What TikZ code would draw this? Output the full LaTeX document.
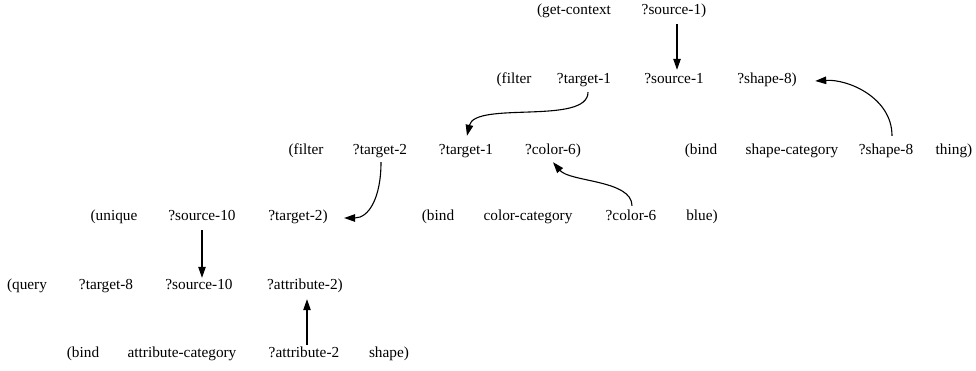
\documentclass[tikz,border=0pt]{standalone}
\usepackage{fontspec}
\setmainfont{Liberation Serif}
\usetikzlibrary{arrows.meta}
\begin{document}
\begin{tikzpicture}[x=1pt,y=-1pt,
  word/.style={inner sep=0pt,outer sep=1.5pt,font=\fontsize{15.3}{18}\selectfont,
    text height=0.72em,text depth=0.22em,anchor=center},
  link/.style={line width=1.1pt,-{Triangle[length=11pt,width=7.5pt]}}]
\useasboundingbox (0,0) rectangle (976,371);

% (get-context ?source-1)
\node[word] (gc0) at (574,12) {(get-context};
\node[word] (gc1) at (674,12) {?source-1)};

% (filter ?target-1 ?source-1 ?shape-8)
\node[word] (fa0) at (514,81) {(filter};
\node[word] (fa1) at (584,81) {?target-1};
\node[word] (fa2) at (674,81) {?source-1};
\node[word] (fa3) at (767,81) {?shape-8)};

% (filter ?target-2 ?target-1 ?color-6)
\node[word] (fb0) at (306,152) {(filter};
\node[word] (fb1) at (380,152) {?target-2};
\node[word] (fb2) at (466,152) {?target-1};
\node[word] (fb3) at (553,152) {?color-6)};

% (bind shape-category ?shape-8 thing)
\node[word] (bs0) at (701,152) {(bind};
\node[word] (bs1) at (792,152) {shape-category};
\node[word] (bs2) at (886,152) {?shape-8};
\node[word] (bs3) at (954,152) {thing)};

% (unique ?source-10 ?target-2)
\node[word] (un0) at (114,218) {(unique};
\node[word] (un1) at (202,218) {?source-10};
\node[word] (un2) at (298,218) {?target-2)};

% (bind color-category ?color-6 blue)
\node[word] (bc0) at (438,218) {(bind};
\node[word] (bc1) at (528,218) {color-category};
\node[word] (bc2) at (631,218) {?color-6};
\node[word] (bc3) at (702,218) {blue)};

% (query ?target-8 ?source-10 ?attribute-2)
\node[word] (qu0) at (27,287) {(query};
\node[word] (qu1) at (106,287) {?target-8};
\node[word] (qu2) at (199,287) {?source-10};
\node[word] (qu3) at (305,287) {?attribute-2)};

% (bind attribute-category ?attribute-2 shape)
\node[word] (ba0) at (83,355) {(bind};
\node[word] (ba1) at (182,355) {attribute-category};
\node[word] (ba2) at (304,355) {?attribute-2};
\node[word] (ba3) at (389,355) {shape)};

% variable bindings (shifts are in picture units, y pointing down)
\draw[link] ([shift={(3,6)}]gc1.south) -- ([shift={(3,-5)}]fa2.north);
\draw[link] ([shift={(4,5)}]fa1.south)
  .. controls ++(0,33) and ++(8,-35) .. ([shift={(1,-10)}]fb2.north);
\draw[link] ([shift={(6,-10)}]bs2.north)
  .. controls ++(0,-38) and ++(33,-2) .. ([shift={(17,0)}]fa3.east);
\draw[link] ([shift={(1,-6)}]bc2.north)
  .. controls ++(0,-26) and ++(17,20) .. ([shift={(0,4)}]fb3.south);
\draw[link] ([shift={(1,4)}]fb1.south)
  .. controls ++(0,35) and ++(25,0) .. ([shift={(15,0)}]un2.east);
\draw[link] ([shift={(0,6)}]un1.south) -- ([shift={(3,-3)}]qu2.north);
\draw[link] ([shift={(3,-4)}]ba2.north) -- ([shift={(2,6)}]qu3.south);
\end{tikzpicture}
\end{document}
